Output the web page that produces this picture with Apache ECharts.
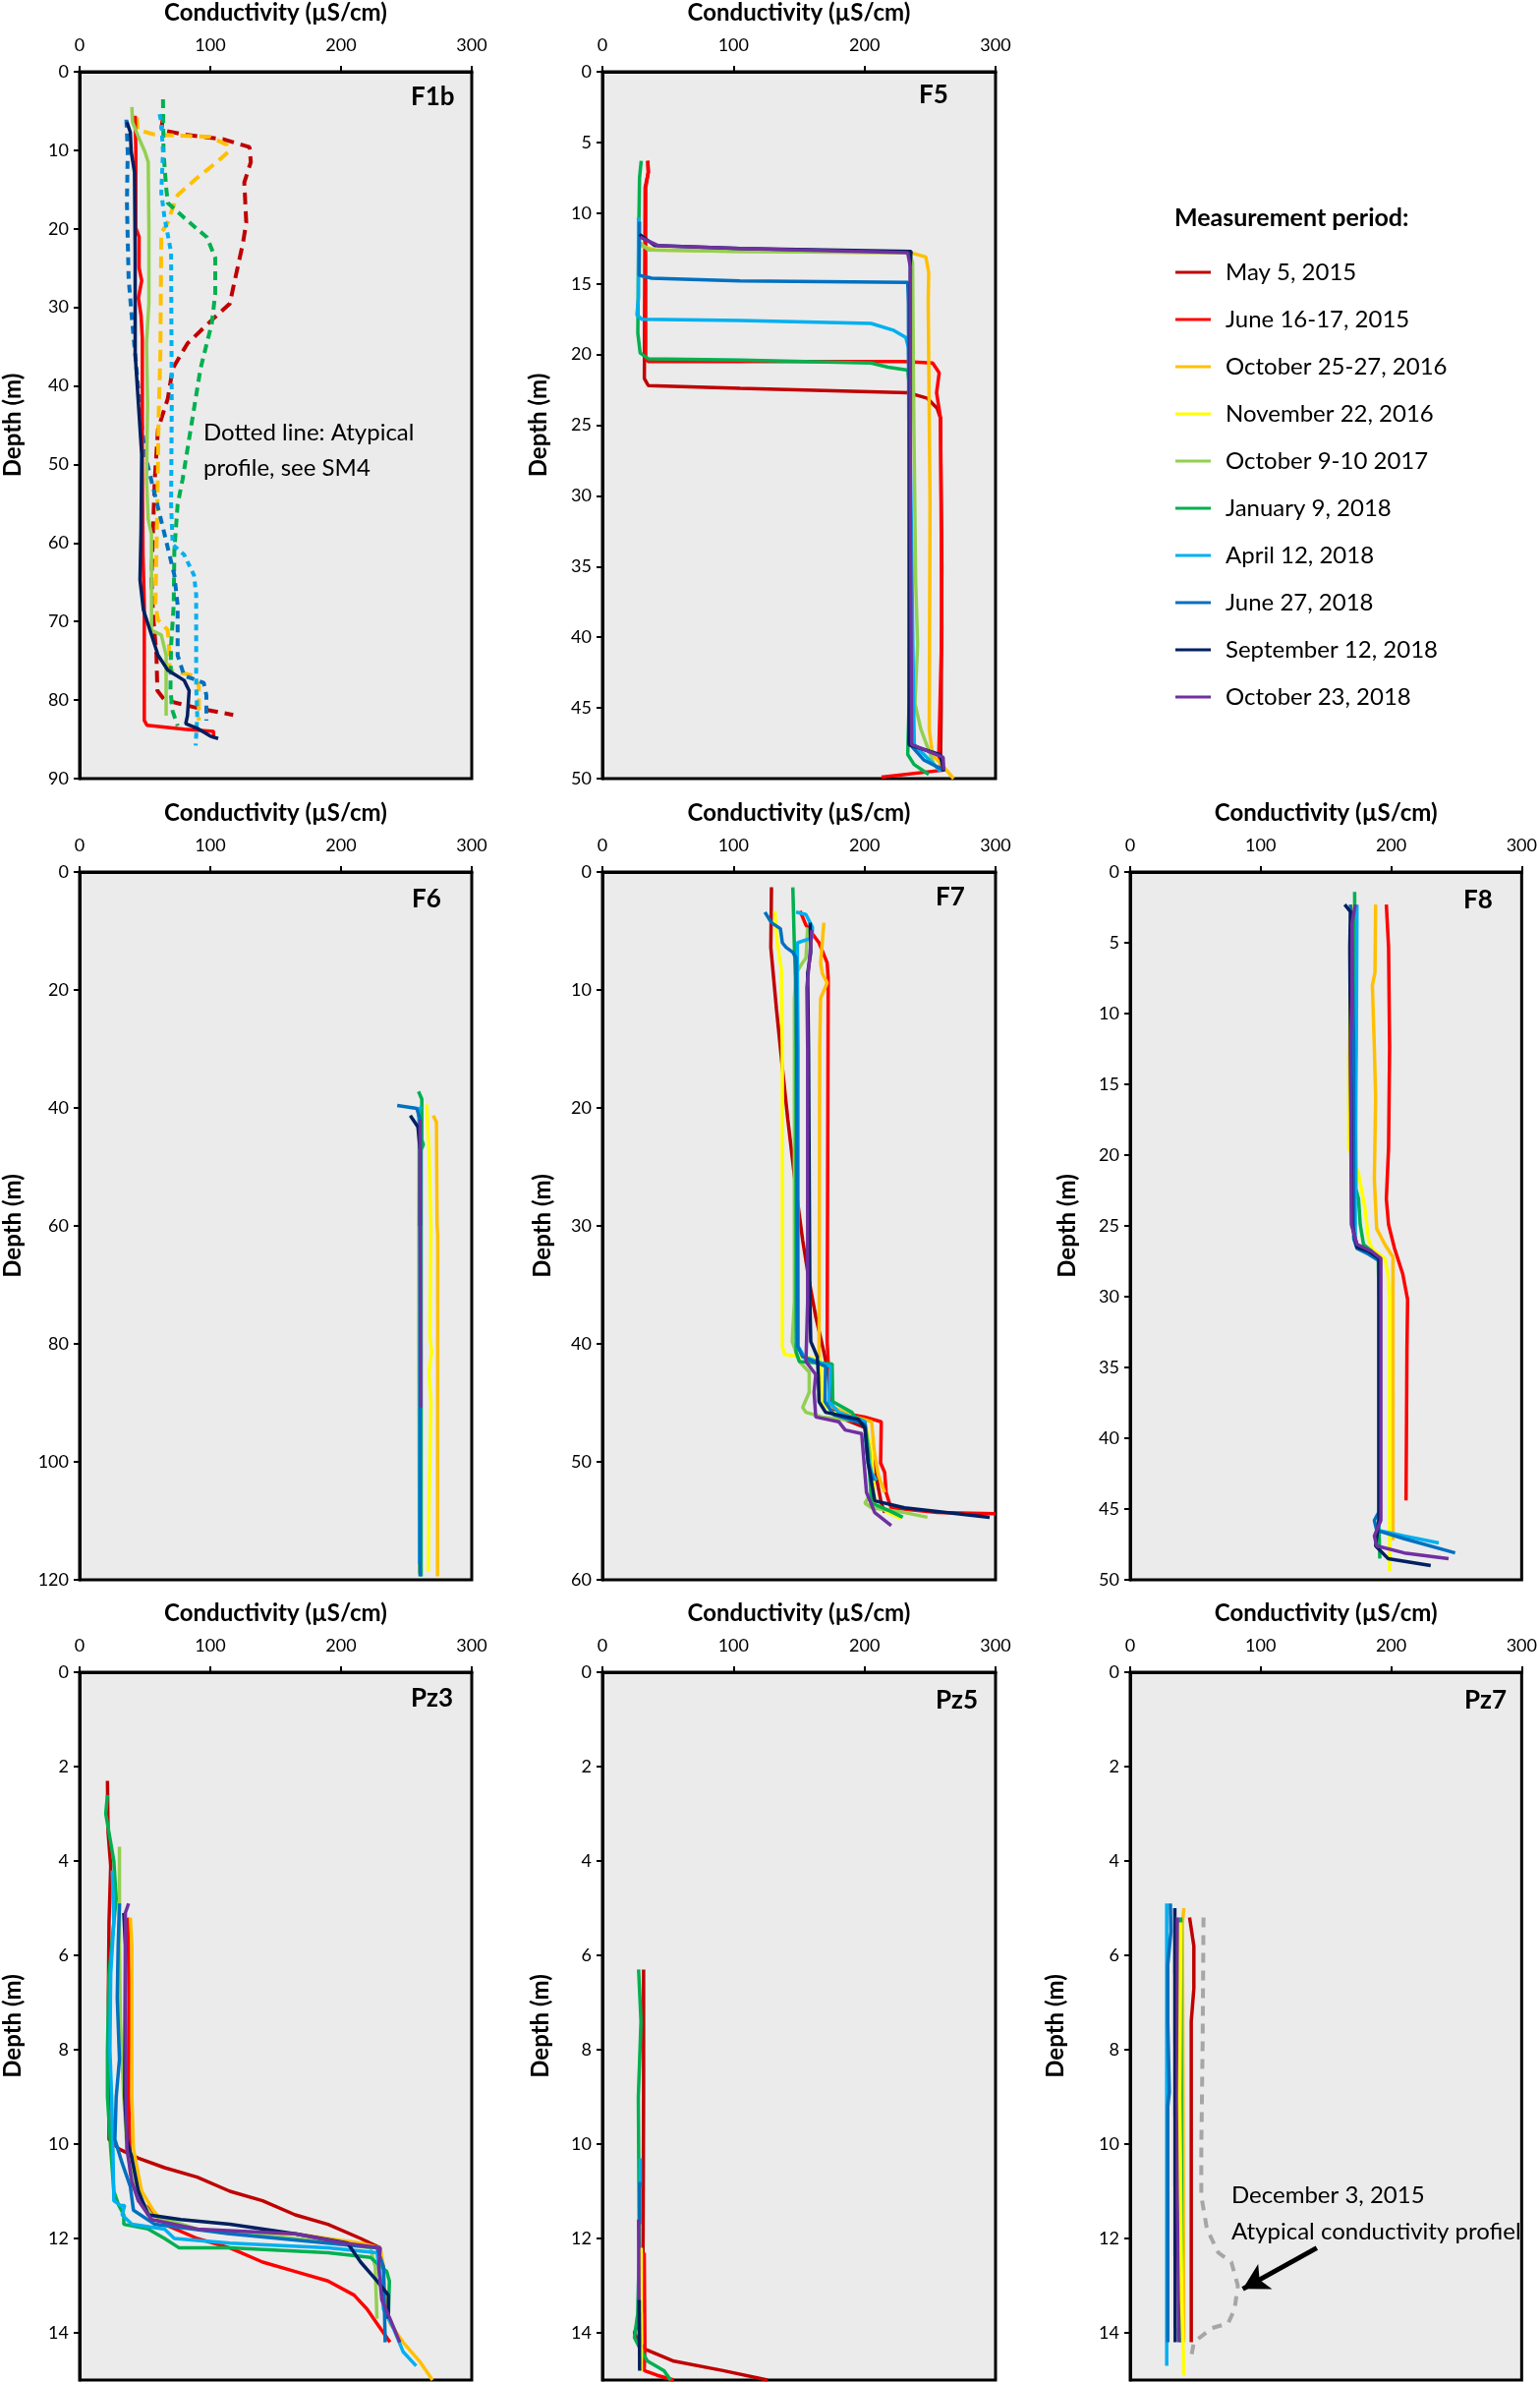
<!DOCTYPE html>
<html><head><meta charset="utf-8">
<script src="https://cdn.jsdelivr.net/npm/echarts@6/dist/echarts.min.js"></script>
<style>html,body{margin:0;padding:0;background:#fff}#c{width:1567px;height:2423px}</style>
</head><body><div id="c"></div>
<script>
// ---------- Legend / periods ----------
const PERIODS = ['May 5, 2015','June 16-17, 2015','October 25-27, 2016','November 22, 2016','October 9-10 2017','January 9, 2018','April 12, 2018','June 27, 2018','September 12, 2018','October 23, 2018'];
const COLORS = ['#C00000','#FF0000','#FFC000','#FFFF00','#92D050','#00B050','#00B0F0','#0070C0','#002060','#7030A0'];
const X_TICKS = [0,100,200,300];

// ---------- F1b  [conductivity, depth] ----------
const F1B_JUN15 = [[42.5,5.6],[43,10],[43,19.9],[45.5,21],[45.5,25],[47.5,26.6],[45,28.8],[47,31],[48,34],[48,50],[48.5,61.5],[49.5,68],[49.5,82.6],[51.5,83.2],[80,83.7],[102.5,84],[102.5,84.9]];
const F1B_OCT17 = [[40,4.5],[40.5,6.4],[45,8.3],[50,10.2],[52.5,11.5],[53,19.9],[53,29.5],[51.2,34.6],[52,42.3],[51.2,51.9],[52.5,57],[55,58.9],[55,71.1],[62.5,71.7],[66.2,74.3],[66.2,82]];
const F1B_SEP18 = [[36.2,6.4],[38.8,7.7],[39.5,10.2],[42,12.8],[42.5,23],[42.5,35.9],[45,42.3],[47.5,48.7],[47,58.3],[46.2,64.7],[48.8,68.5],[55,71.7],[60,74.3],[67.5,76.2],[80,77.5],[83.8,78.8],[82.5,82],[81.2,83],[90,83.6],[100,84.6],[106,84.9]];
const F1B_MAY15_ATYP = [[63.8,5.8],[62.5,7.4],[80,8],[110,8.6],[130,9.6],[131,11.5],[126,14.1],[127.5,19.2],[125,21.8],[117.5,27.5],[115,29.5],[102.5,31.4],[82.5,34.6],[71.2,37.8],[67.5,41.6],[60,45.5],[57.5,51.9],[56.2,58.3],[55,64.7],[56.2,69.2],[58.8,74.3],[59.5,78.8],[65,80],[90,81],[117.5,81.9]];
const F1B_OCT16_ATYP = [[43.8,5.8],[44.5,7.4],[57.5,8],[100,8.3],[112.5,9.3],[113.8,10.2],[105,11.5],[90,13.5],[75,15.7],[70,17.9],[67.5,19.2],[62.5,20.5],[61.8,35.9],[60.5,43.6],[59.5,55.1],[58,67.9],[60,69.8],[67.5,71.1],[68.8,74.3],[68.8,76.2],[87.5,76.9],[91.2,78.2],[91.2,82.6]];
const F1B_JAN18_ATYP = [[63.8,3.5],[64.2,10.2],[66.2,14.7],[67.5,16.7],[80,18.6],[97.5,21.1],[103.8,23.7],[103.8,28.2],[101.2,32],[92.5,37.8],[85,45.5],[78.8,51.9],[75,55.1],[72.5,60.9],[72,67.9],[70,73],[69.5,78.8],[71.2,81.4],[75,83.3]];
const F1B_APR18_ATYP = [[61.2,5.4],[62.5,6.4],[63.8,10.2],[62.5,15.4],[65,18.6],[70,23],[70.5,42.3],[70,55.1],[71.2,60.2],[80,61.5],[87.5,64.1],[89.2,66.6],[89.2,78.2],[90,82],[88.8,85.8]];
const F1B_JUN18_ATYP = [[35.8,6.1],[36.8,10.2],[36.2,16.7],[37.5,26.3],[40,31.4],[42.5,35.9],[46.2,42.9],[50,48.7],[57.5,53.8],[65,58.9],[72.5,64.1],[75,67.9],[75,74.3],[80,76.9],[95,77.8],[97,79.4],[97,82.6]];

// ---------- F5 ----------
const F5_MAY15 = [[34.6,6.3],[35,7.1],[32.6,8.2],[32,21.7],[35,22.2],[105,22.4],[233,22.7],[248,23.1],[255.4,23.8],[258,24.5],[259,35],[258.5,45],[258,49]];
const F5_JUN15 = [[34.6,6.3],[35,7.1],[33,8.2],[33,20.3],[35,20.5],[105,20.5],[230,20.5],[252,20.6],[257,21.3],[255,22.7],[258,24.5],[259,39.4],[256.7,48.3],[258,49],[260,49.4],[213,49.9]];
const F5_OCT16 = [[28.8,12.3],[40,12.6],[105,12.7],[235.5,12.8],[246.8,13.1],[249,14.2],[248.6,16.3],[250,30.5],[249.4,46.5],[251.8,48.3],[260.6,49.2],[268,50]];
const F5_OCT17 = [[28.8,12.1],[35,12.6],[105,12.7],[234,12.8],[236.7,13.5],[237.5,23.4],[239,35.9],[240.5,40.5],[238.5,44.7],[243,46.5],[253,49]];
const F5_JAN18 = [[29.6,6.3],[28.3,7.5],[27.5,12.8],[27,18.5],[28.8,19.9],[35,20.3],[105,20.4],[205,20.6],[218,20.9],[233,21.1],[234,22],[234,44.7],[233,48.3],[237.8,49],[249,49.7]];
const F5_APR18 = [[27.5,10.3],[27.5,16],[26.3,17.2],[30,17.5],[105,17.6],[205,17.8],[222.5,18.3],[231.5,18.8],[233.5,19.5],[235.5,30.5],[237.5,44.7],[238,47.6],[253,49],[258,49.5]];
const F5_JUN18 = [[28.3,10.6],[28,14.4],[37.6,14.6],[105,14.8],[233,14.9],[233.5,16.3],[234,30.5],[235,47.6],[245.5,48.7],[260.5,49.4]];
const F5_SEP18 = [[28.3,11.5],[40,12.3],[105,12.5],[235.5,12.7],[235,13.5],[234,47.6],[257.8,48.3],[260.5,49.5]];
const F5_OCT18 = [[28.8,11.7],[42.6,12.3],[105,12.5],[233,12.8],[235,13.8],[235,30.5],[236,47.6],[260,48.5],[260.5,49.4]];

// ---------- F6 ----------
const F6_OCT16 = [[270.5,41.3],[273,42.4],[273.5,59.9],[274,61.6],[273.8,119.4]];
const F6_NOV16 = [[265.5,39.4],[267.3,47.1],[268.8,59.9],[268,78.8],[269.3,81.3],[267.3,84.8],[268.8,89.9],[267.3,107],[266.8,118.6]];
const F6_OCT17 = [[259.8,40.2],[259.5,60],[259.5,80],[260,119]];
const F6_JAN18 = [[259.3,37.2],[261.8,38.5],[261.8,45.4],[263,46.2],[261.3,47.1],[261.3,119.4]];
const F6_APR18 = [[261.8,39.8],[259.3,40.2],[260.5,47.1],[260,117.3]];
const F6_JUN18 = [[243,39.6],[258,40.1],[260.5,42],[260.5,119.4]];
const F6_SEP18 = [[253,41.3],[258.8,43.2],[260.5,47.1],[260.5,60]];
const F6_OCT18 = [[260.5,42],[260.5,60],[260.8,80],[261,90.8]];

// ---------- F7 ----------
const F7_MAY15 = [[129,1.3],[128.5,6.4],[132.8,11.6],[137.8,17.1],[141.5,21],[147.8,27],[152.8,31.2],[157.8,34.7],[162.8,37.7],[169,40.7],[172.8,42.8],[174,44.9],[180.3,46.2],[200.3,47.1],[205.4,49.2],[209,51.3],[212.8,53.5],[215.4,54.3]];
const F7_JUN15 = [[150.8,3.3],[155.3,4.5],[165.3,6],[171.5,7.7],[172.3,9],[171.5,39.8],[172.8,42.8],[174,45.4],[180.3,45.8],[200.3,46.2],[212.8,46.6],[212.3,50.1],[215.4,50.9],[216.5,52.6],[219,53.5],[220.4,53.9],[255.4,54.3],[300,54.4]];
const F7_OCT16 = [[169,4.3],[166.5,7.7],[167.8,8.6],[171.5,9.4],[166.5,10.7],[165.8,15],[165.3,40.7],[166.5,44.9],[192.8,46.2],[205.4,46.6],[207.5,49.2],[210.5,51.1],[215.4,52.6]];
const F7_NOV16 = [[131.6,3.3],[133.4,6],[136.6,8.3],[137.3,15],[137.3,40.2],[139,40.9],[152.8,41.1],[166.5,41.3],[167.3,44.9],[175.3,45.8],[200.3,46.6],[205.4,49.2],[207.8,53.5],[218,54.3],[228,54.8]];
const F7_OCT17 = [[156.6,4.7],[155.3,7.3],[151.5,7.9],[147.8,8.6],[146.5,10.7],[146.5,36.4],[144.8,39.8],[150.3,41.5],[157.8,42.4],[157.8,44.1],[152.8,45.4],[155.3,45.8],[167.8,46.2],[200.3,46.6],[204,49.2],[205.4,52.6],[200.3,53.5],[205.4,53.9],[230.5,54.3],[248,54.7]];
const F7_JAN18 = [[145.3,1.3],[146.5,6.4],[147.8,10.7],[147.8,40.7],[150.3,41.5],[175.3,41.7],[175.8,44.9],[190.3,45.8],[192.8,46.2],[200.3,46.6],[202.8,49.2],[205.4,53.5],[218,54.1],[229.2,54.7]];
const F7_APR18 = [[147.8,3.4],[155.3,3.6],[160.3,4.7],[159.8,5.6],[148.8,6],[148.8,8.6],[149.3,15],[149.3,40.2],[154,41.1],[174,41.9],[172.8,44.9],[180.3,45.8],[200.3,46.6],[201.5,49.2],[205.4,50.9],[209,51.6]];
const F7_JUN18 = [[124,3.4],[129,4.3],[135.8,4.8],[137.3,6],[140.3,6.4],[145.3,6.8],[147.8,7.3],[147.8,8.6],[148.3,15],[149,40.2],[152.8,41.1],[170.3,41.9],[169.8,44.9],[176.5,46],[200.3,46.8],[202.8,50.1],[206.6,51.6]];
const F7_SEP18 = [[158.5,4.3],[159,6.8],[156.6,8.6],[157.3,15],[158.3,36.4],[159,39.8],[164,41.1],[164.8,42.8],[165.3,44.9],[170.3,45.8],[195.3,46.4],[200.3,47.1],[202.8,50.1],[207.8,53.3],[230.5,53.9],[295.5,54.7]];
const F7_OCT18 = [[159.8,4.9],[157.8,7.7],[156,9.8],[156.6,15],[156.6,36.4],[155.3,41.5],[162.8,42.6],[161.5,44.1],[162.8,46.2],[180.3,46.6],[185.3,47.3],[197.8,47.6],[199,49.2],[201.5,52.6],[207.8,54.3],[220.4,55.4]];

// ---------- F8 ----------
const F8_JUN15 = [[196.3,2.3],[198,5.3],[198.8,12.4],[198,19.5],[196.3,23.1],[198,24.9],[202.6,26.6],[208.9,28.4],[212.6,30.2],[212.1,33.7],[211.4,44.4]];
const F8_OCT16 = [[188.1,2.3],[187.6,7.1],[185.6,8],[187.1,12.4],[188.1,16],[187.1,21.7],[188.9,25.2],[195.1,26.3],[201.4,27.2],[201.4,47.2]];
const F8_NOV16 = [[170,2.3],[168.5,8],[167.5,13.1],[167.5,19.5],[175,21.3],[180,23.8],[182.6,25.9],[185.1,26.6],[195.1,27.3],[197.6,28.4],[198.8,30.2],[198.8,49.4]];
const F8_JAN18 = [[172,1.4],[172.5,8.9],[173,22.4],[175,23.1],[176.3,24.9],[178.8,26.3],[185.1,26.8],[190.1,27.3],[190.6,30.2],[190.6,46.2],[191.3,48.5]];
const F8_APR18 = [[173.8,2.3],[173.3,12.4],[172.5,19.5],[172.5,25.9],[175,26.6],[183.8,27],[191.3,27.3],[191.3,45.5],[190.1,46.5],[210.1,46.9],[236.5,47.4]];
const F8_JUN18 = [[168.8,2.3],[170,5.3],[171.3,12.4],[171.3,25.9],[173.8,26.6],[182.6,27],[191.3,27.5],[191.3,45.1],[187.1,45.8],[188.9,46.5],[210.1,47.1],[249,48.1]];
const F8_SEP18 = [[164.4,2.3],[168.8,2.8],[168.3,5.3],[168.8,12.4],[170,24.9],[173.8,26.5],[182.6,26.8],[190.6,27.3],[190.6,45.8],[188.1,47.6],[197.6,48.5],[230.3,49]];
const F8_OCT18 = [[172.5,2.3],[170,3.6],[170,8.9],[168.8,12.4],[169.5,24.9],[173.8,26.3],[185.1,26.8],[192.1,27.3],[192.1,45.8],[187.1,46.9],[188.9,47.6],[210.1,48.1],[244,48.5]];

// ---------- Pz3 ----------
const PZ3_MAY15 = [[21.3,2.3],[21.8,3.4],[23.8,4.1],[22.5,5.3],[22,6.9],[22.5,9],[22.5,9.9],[30,10.1],[45,10.3],[65,10.5],[90,10.7],[115,11],[140,11.2],[165,11.5],[190,11.7],[215,12],[230,12.2]];
const PZ3_JUN15 = [[37,5.2],[38,6.9],[37.5,9],[38.8,10.6],[45,11.2],[55,11.4],[65,11.7],[90,12],[115,12.2],[140,12.5],[165,12.7],[190,12.9],[210,13.2],[220,13.5],[227.5,13.8],[237.5,14.2]];
const PZ3_OCT16 = [[38.8,5.2],[40,5.8],[40,9],[41.2,10.1],[47.5,11],[56.2,11.4],[65,11.7],[115,11.9],[165,11.9],[190,12],[215,12.1],[230,12.2],[232.5,12.6],[233.8,13.3],[237.5,13.8],[247.5,14.2],[260,14.6],[270,15]];
const PZ3_OCT17 = [[30.5,3.7],[30.5,5.8],[31.2,7.4],[33.8,9],[36.2,10.1],[42.5,11],[55,11.5],[90,11.8],[165,12],[222.5,12.2],[226.2,12.6],[227,13.3],[227.5,13.7]];
const PZ3_JAN18 = [[21.3,2.6],[20,3],[22.5,3.4],[26.2,4],[28,4.8],[26.2,5.3],[22.5,6.4],[21.3,8],[21.3,9],[23.8,10.1],[26.2,11],[30,11.3],[33.8,11.5],[33.8,11.7],[52.5,11.8],[65,12],[76.2,12.2],[115,12.2],[190,12.3],[222.5,12.4],[235,12.7],[237,12.9],[236.2,13.7]];
const PZ3_APR18 = [[25,4.2],[26.2,5.3],[23.8,6.4],[23.2,8],[24.5,9],[25.5,10.1],[26.2,11.2],[31.2,11.3],[34.5,11.3],[32.5,11.5],[40,11.7],[65,11.8],[72.5,12],[115,12.1],[190,12.2],[227.5,12.3],[230,12.8],[232.5,13.5],[240,13.9],[247.5,14.4],[257.5,14.7]];
const PZ3_JUN18 = [[30.5,4.9],[29.5,5.8],[28.8,6.9],[30.5,8.2],[28,9],[27,9.9],[32.5,10.4],[38.8,10.9],[41.2,11.4],[57.5,11.7],[115,11.9],[190,12.1],[227.5,12.2],[232.5,12.6],[233.8,14.2]];
const PZ3_SEP18 = [[33.8,5.1],[35,5.8],[34.5,9],[36.2,9.9],[40,10.3],[45,11],[52.5,11.5],[77.5,11.6],[115,11.7],[165,11.9],[205,12.1],[215,12.5],[227.5,12.9],[236.2,13.2],[236.2,13.7]];
const PZ3_OCT18 = [[37.5,4.9],[35,5.1],[35.5,9],[36.2,10.1],[40,10.8],[45,11.2],[55,11.6],[90,11.8],[165,11.9],[202.5,12.1],[230,12.2],[228.8,12.6],[231.2,13.3],[237.5,13.7],[245,14.2]];

// ---------- Pz5 ----------
const PZ5_MAY15 = [[31.4,6.3],[31.4,9],[31,12],[30.6,13.5],[27,13.8],[24.4,14],[28,14.2],[33,14.35],[54.5,14.6],[92,14.8],[126,15]];
const PZ5_JUN15 = [[31.9,12.3],[32.4,14.3],[31.9,14.8],[41.9,14.9],[54.5,15]];
const PZ5_NOV16 = [[29.6,12.2],[29.6,14.8]];
const PZ5_JAN18 = [[27.6,6.3],[29.4,7.4],[27.4,9],[28.1,12.2],[26.9,13.6],[24.4,14.1],[28.1,14.3],[34.4,14.6],[47,14.8],[52,15]];
const PZ5_APR18 = [[28.9,10.3],[28.9,10.9]];
const PZ5_JUN18 = [[28.4,10.8],[28.4,11.7]];
const PZ5_SEP18 = [[28.1,13.3],[28.4,14.8]];
const PZ5_OCT18 = [[27.6,11.6],[28.1,14.3]];

// ---------- Pz7 ----------
const PZ7_MAY15 = [[45.5,5.2],[48.8,5.8],[48.8,6.7],[46.8,7.4],[46.8,14.2]];
const PZ7_OCT16 = [[41.2,5],[40,5.3],[40.5,9],[41,14.2]];
const PZ7_NOV16 = [[38.8,5.3],[38,9],[39.5,13.3],[41.2,14.9]];
const PZ7_OCT17 = [[37.5,5.2],[38,14.2]];
const PZ7_JAN18 = [[38.8,5.2],[39.5,12.2],[38.8,14.2]];
const PZ7_APR18 = [[28,4.9],[28,14.7]];
const PZ7_JUN18 = [[30.8,4.9],[31.2,5.5],[28.8,6.2],[28.8,7.4],[30,8.9],[28.8,9.2],[28.8,14.2]];
const PZ7_SEP18 = [[34.2,5],[34.5,14.2]];
const PZ7_OCT18 = [[36.2,5.2],[36.2,11.1],[37.5,14.2]];
const PZ7_DEC15 = [[56.2,5.2],[55.5,7.9],[54.5,10.1],[54.5,11.1],[58.8,11.8],[67.5,12.3],[77.5,12.5],[82.5,13],[80,13.5],[75,13.8],[62.5,13.9],[48.8,14.2],[46.8,14.5]];
const PZ7_ARROW = [[143,12.2],[86.3,13.07]];

// ---------- Panels ----------
const PANEL_NAMES = ['F1b','F5','F6','F7','F8','Pz3','Pz5','Pz7'];
const DEPTH_MAX = [90,50,120,60,50,15,15,15];
const DEPTH_STEP = [10,5,20,10,5,2,2,2];

// layout (pixels)
const GRID_POS = [[80,72],[613,72],[80,887],[613,887],[1150,887],[80,1701],[613,1701],[1150,1701]];
const NAME_GAP_Y = [56,53,56,49,52,56,51,64];
const LABEL_POS = [[418,99],[935,97],[419,915],[952,913],[1489,916],[418,1728],[952,1730],[1490,1730]];

const FONT = 'Lato, "Open Sans", "DejaVu Sans", sans-serif';
const LW = 3.5;

const chart = echarts.init(document.getElementById('c'), null, {renderer:'canvas'});

const grid = GRID_POS.map(p => ({left:p[0], top:p[1], width:400, height:720, show:true, backgroundColor:'#EBEBEB', borderColor:'#000', borderWidth:3, containLabel:false}));

const xAxis = GRID_POS.map((p,i) => ({
  gridIndex:i, type:'value', position:'top', min:X_TICKS[0], max:X_TICKS[X_TICKS.length-1], interval:100,
  name:'Conductivity (µS/cm)', nameLocation:'middle', nameGap:48,
  nameTextStyle:{fontFamily:FONT, fontWeight:'bold', fontSize:24, color:'#000'},
  axisLine:{show:true, onZero:false, lineStyle:{color:'#000', width:3}},
  axisTick:{show:true, length:6, lineStyle:{color:'#000', width:2}},
  axisLabel:{fontFamily:FONT, fontSize:18, color:'#000', margin:18},
  splitLine:{show:false}
}));

const yAxis = GRID_POS.map((p,i) => ({
  gridIndex:i, type:'value', inverse:true, min:0, max:DEPTH_MAX[i], interval:DEPTH_STEP[i],
  name:'Depth (m)', nameLocation:'middle', nameGap:NAME_GAP_Y[i],
  nameTextStyle:{fontFamily:FONT, fontWeight:'bold', fontSize:24, color:'#000'},
  axisLine:{show:true, onZero:false, lineStyle:{color:'#000', width:3}},
  axisTick:{show:true, length:6, lineStyle:{color:'#000', width:2}},
  axisLabel:{fontFamily:FONT, fontSize:18, color:'#000', margin:11, showMaxLabel: DEPTH_MAX[i] % DEPTH_STEP[i] === 0},
  splitLine:{show:false}
}));

function ln(pi, idx, data, extra) {
  const c = COLORS[pi];
  return Object.assign({
    type:'line', name:PERIODS[pi], data:data, xAxisIndex:idx, yAxisIndex:idx,
    symbol:'none', showSymbol:false, smooth:false, clip:true, animation:false,
    lineStyle:{color:c, width:LW}, itemStyle:{color:c}, emphasis:{disabled:true}, silent:true
  }, extra || {});
}
function dash(pi, idx, data, pattern) {
  const c = COLORS[pi];
  return {
    type:'line', name:PERIODS[pi] + ' (atypical)', data:data, xAxisIndex:idx, yAxisIndex:idx,
    symbol:'none', showSymbol:false, clip:true, animation:false,
    lineStyle:{color:c, width:4, type:pattern}, itemStyle:{color:c}, emphasis:{disabled:true}, silent:true
  };
}

const series = [
  // F1b (0)
  dash(0,0,F1B_MAY15_ATYP,[12,7]),
  dash(2,0,F1B_OCT16_ATYP,[12,7]),
  dash(5,0,F1B_JAN18_ATYP,[9,6]),
  dash(6,0,F1B_APR18_ATYP,[6,5]),
  dash(7,0,F1B_JUN18_ATYP,[8,6]),
  ln(1,0,F1B_JUN15), ln(4,0,F1B_OCT17), ln(8,0,F1B_SEP18),
  // F5 (1)
  ln(0,1,F5_MAY15), ln(1,1,F5_JUN15), ln(2,1,F5_OCT16), ln(4,1,F5_OCT17), ln(5,1,F5_JAN18),
  ln(6,1,F5_APR18), ln(7,1,F5_JUN18), ln(8,1,F5_SEP18), ln(9,1,F5_OCT18),
  // F6 (2)
  ln(2,2,F6_OCT16), ln(3,2,F6_NOV16), ln(4,2,F6_OCT17), ln(5,2,F6_JAN18), ln(6,2,F6_APR18),
  ln(7,2,F6_JUN18), ln(8,2,F6_SEP18), ln(9,2,F6_OCT18),
  // F7 (3)
  ln(0,3,F7_MAY15), ln(1,3,F7_JUN15), ln(2,3,F7_OCT16), ln(3,3,F7_NOV16), ln(4,3,F7_OCT17),
  ln(5,3,F7_JAN18), ln(6,3,F7_APR18), ln(7,3,F7_JUN18), ln(8,3,F7_SEP18), ln(9,3,F7_OCT18),
  // F8 (4)
  ln(1,4,F8_JUN15), ln(2,4,F8_OCT16), ln(3,4,F8_NOV16), ln(5,4,F8_JAN18), ln(6,4,F8_APR18),
  ln(7,4,F8_JUN18), ln(8,4,F8_SEP18), ln(9,4,F8_OCT18),
  // Pz3 (5)
  ln(0,5,PZ3_MAY15), ln(1,5,PZ3_JUN15), ln(2,5,PZ3_OCT16), ln(4,5,PZ3_OCT17), ln(5,5,PZ3_JAN18),
  ln(6,5,PZ3_APR18), ln(7,5,PZ3_JUN18), ln(8,5,PZ3_SEP18), ln(9,5,PZ3_OCT18),
  // Pz5 (6)
  ln(0,6,PZ5_MAY15), ln(1,6,PZ5_JUN15), ln(5,6,PZ5_JAN18), ln(3,6,PZ5_NOV16), ln(6,6,PZ5_APR18),
  ln(7,6,PZ5_JUN18), ln(9,6,PZ5_OCT18), ln(8,6,PZ5_SEP18),
  // Pz7 (7)
  {
    type:'line', name:'December 3, 2015', data:PZ7_DEC15, xAxisIndex:7, yAxisIndex:7,
    symbol:'none', showSymbol:false, animation:false, silent:true,
    lineStyle:{color:'#A6A6A6', width:4, type:[10,8]}, itemStyle:{color:'#A6A6A6'},
    markLine:{
      silent:true, animation:false, symbol:['none','arrow'], symbolSize:[22,26], label:{show:false},
      lineStyle:{color:'#000', width:5, type:'solid'}, emphasis:{disabled:true},
      data:[[{coord:PZ7_ARROW[0]},{coord:PZ7_ARROW[1]}]]
    }
  },
  ln(0,7,PZ7_MAY15), ln(2,7,PZ7_OCT16), ln(4,7,PZ7_OCT17), ln(5,7,PZ7_JAN18),
  ln(6,7,PZ7_APR18), ln(7,7,PZ7_JUN18), ln(8,7,PZ7_SEP18), ln(9,7,PZ7_OCT18), ln(3,7,PZ7_NOV16)
];

const graphic = [];
PANEL_NAMES.forEach((n,i) => {
  graphic.push({type:'text', x:LABEL_POS[i][0], y:LABEL_POS[i][1], z:100, silent:true,
    style:{text:n, fontFamily:FONT, fontWeight:'bold', fontSize:26, fill:'#000', align:'left', verticalAlign:'middle'}});
});
graphic.push({type:'text', x:207, y:440, z:100, silent:true,
  style:{text:'Dotted line: Atypical', fontFamily:FONT, fontSize:24, fill:'#000', align:'left', verticalAlign:'middle'}});
graphic.push({type:'text', x:207, y:476, z:100, silent:true,
  style:{text:'profile, see SM4', fontFamily:FONT, fontSize:24, fill:'#000', align:'left', verticalAlign:'middle'}});
graphic.push({type:'text', x:1253, y:2233, z:100, silent:true,
  style:{text:'December 3, 2015', fontFamily:FONT, fontSize:24, fill:'#000', align:'left', verticalAlign:'middle'}});
graphic.push({type:'text', x:1253, y:2270, z:100, silent:true,
  style:{text:'Atypical conductivity profiel', fontFamily:FONT, fontSize:24, fill:'#000', align:'left', verticalAlign:'middle'}});
graphic.push({type:'text', x:1195, y:222, z:100, silent:true,
  style:{text:'Measurement period:', fontFamily:FONT, fontWeight:'bold', fontSize:25, fill:'#000', align:'left', verticalAlign:'middle'}});

chart.setOption({
  animation:false,
  backgroundColor:'#fff',
  grid, xAxis, yAxis, series, graphic,
  legend:{
    data:PERIODS, orient:'vertical', left:1191, top:258, itemWidth:36, itemHeight:3, icon:'rect',
    itemGap:20, selectedMode:false,
    textStyle:{fontFamily:FONT, fontSize:24, color:'#000', lineHeight:28, padding:[0,0,0,10]}
  }
});
</script></body></html>
